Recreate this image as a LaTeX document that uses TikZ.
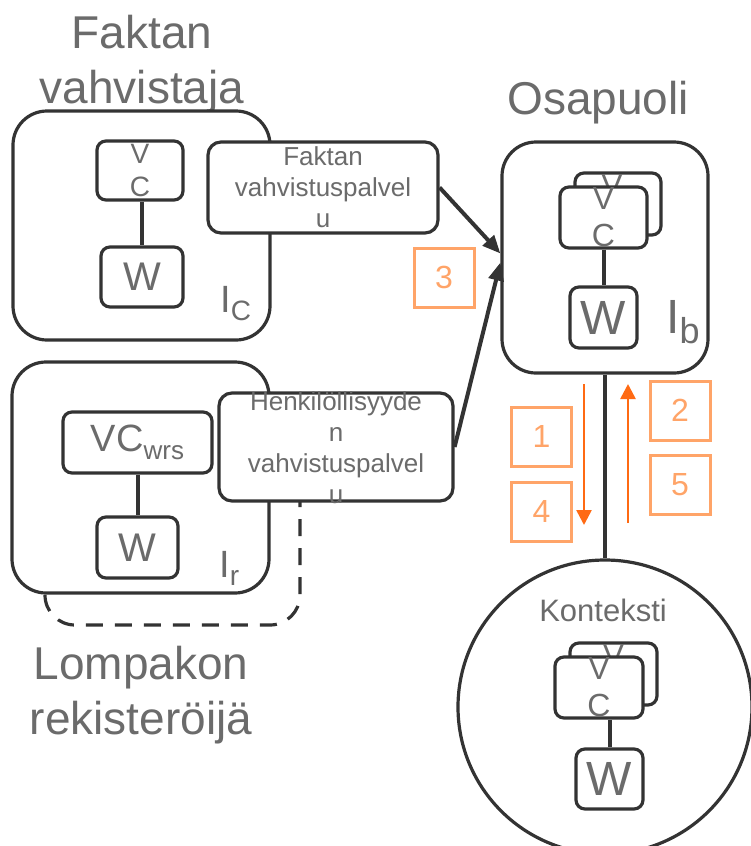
\documentclass[tikz,border=0pt]{standalone}
\usepackage{fontspec}
\setmainfont{Liberation Sans}
\usetikzlibrary{arrows.meta}
\definecolor{txtgray}{HTML}{6B6B6B}
\definecolor{linegray}{HTML}{333333}
\definecolor{lightorange}{HTML}{FFA468}
\definecolor{darkorange}{HTML}{FF6A13}
\tikzset{
  bigbox/.style={draw=linegray, line width=3.2pt, rounded corners=34pt, fill=white, inner sep=0pt},
  smallbox/.style={draw=linegray, line width=3.2pt, rounded corners=9pt, fill=white, inner sep=0pt, text=txtgray},
  svcbox/.style={smallbox, rounded corners=13pt},
  numbox/.style={draw=lightorange, line width=3pt, minimum width=60pt, minimum height=59pt, inner sep=0pt, text=lightorange, font=\fontsize{32}{32}\selectfont},
  bigtext/.style={text=txtgray, font=\fontsize{46}{55}\selectfont, align=center, inner sep=0pt},
  svctext/.style={text=txtgray, font=\fontsize{26}{31}\selectfont, align=center, inner sep=0pt},
  vctext/.style={text=txtgray, font=\fontsize{32}{37}\selectfont, align=center, inner sep=0pt},
  conn/.style={draw=linegray, line width=4pt},
  flow/.style={draw=linegray, line width=4pt, -{Triangle[length=18pt,width=15pt]}},
  msg/.style={draw=darkorange, line width=2.6pt, -{Triangle[length=15pt,width=15pt]}},
}
\begin{document}
\begin{tikzpicture}[x=1pt, y=-1pt]
\useasboundingbox (0,0) rectangle (751,846);
% titles
\node[bigtext, anchor=north] (fvtitle) at (142,15) {Faktan\\vahvistaja};
\node[bigtext, anchor=north] (optitle) at (598,81) {Osapuoli};
\node[bigtext, anchor=north] (lrtitle) at (141,645.5) {Lompakon\\rekisteröijä};

% wallet registrar (dashed part behind)
\draw[linegray, line width=3.2pt, dash pattern=on 17pt off 12pt, rounded corners=30pt] (45,420) rectangle (300,625);

% I_C
\node[bigbox, minimum width=257pt, minimum height=229pt] (ic) at (141.5,225.5) {};
\node[smallbox, minimum width=86pt, minimum height=59pt] (icvc) at (140,170.5) {};
\node[vctext, font=\fontsize{28}{33}\selectfont] at (icvc) {V\\C};
\node[smallbox, minimum width=82pt, minimum height=60pt, font=\fontsize{40}{40}\selectfont] (icw) at (142,277) {W};
\draw[conn] (icw.north |- icvc.south) -- (icw.north);
\node[text=txtgray, inner sep=0pt, anchor=base west, font=\fontsize{38}{38}\selectfont] (iclbl) at (220,312) {I\raisebox{-8pt}{\fontsize{28}{28}\selectfont C}};

% I_r
\node[bigbox, minimum width=257pt, minimum height=231pt] (ir) at (140.5,477.5) {};
\node[smallbox, minimum width=149pt, minimum height=61pt, font=\fontsize{38}{38}\selectfont] (irvc) at (137.5,442.5) {VC\raisebox{-8pt}{\fontsize{26}{26}\selectfont wrs}};
\node[smallbox, minimum width=81pt, minimum height=61pt, font=\fontsize{40}{40}\selectfont] (irw) at (137.5,547.5) {W};
\draw[conn] (irvc) -- (irw);
\node[text=txtgray, inner sep=0pt, anchor=base west, font=\fontsize{38}{38}\selectfont] (irlbl) at (219,577) {I\raisebox{-8pt}{\fontsize{28}{28}\selectfont r}};

% services
\node[svcbox, minimum width=230pt, minimum height=91pt] (fvp) at (323,187.5) {};
\node[svctext] at (fvp) {Faktan\\vahvistuspalvel\\u};
\node[svcbox, minimum width=234pt, minimum height=108pt] (hvp) at (336,447) {};
\node[svctext] at (336,448) {Henkilöllisyyde\\n\\vahvistuspalvel\\u};

% I_b
\node[bigbox, minimum width=206pt, minimum height=231pt] (ib) at (605,257.5) {};
\node[smallbox, minimum width=86pt, minimum height=62pt] (ibvc2) at (618,204) {};
\node[vctext] at ([xshift=-6pt]ibvc2) {V\\C};
\node[smallbox, minimum width=87pt, minimum height=61pt] (ibvc) at (603.5,217.5) {};
\node[vctext] at (ibvc) {V\\C};
\node[smallbox, minimum width=67pt, minimum height=61pt, font=\fontsize{48}{48}\selectfont] (ibw) at (603.5,317.5) {W};
\draw[conn] (ibvc) -- (ibw);
\node[text=txtgray, inner sep=0pt, anchor=base west, font=\fontsize{48}{48}\selectfont] (iblbl) at (666,333) {I\raisebox{-10pt}{\fontsize{36}{36}\selectfont b}};

% context
\node[draw=linegray, line width=3.2pt, circle, minimum size=294pt, inner sep=0pt] (ctx) at (605,707) {};
\node[svctext, font=\fontsize{31}{31}\selectfont] (ctxlbl) at (603,610) {Konteksti};
\node[smallbox, minimum width=87pt, minimum height=62pt] (ctxvc2) at (613.5,674) {};
\node[vctext] at (ctxvc2) {V\\C};
\node[smallbox, minimum width=88pt, minimum height=61pt] (ctxvc) at (599,687.5) {};
\node[vctext] at (ctxvc) {V\\C};
\node[smallbox, minimum width=67pt, minimum height=60pt, font=\fontsize{48}{48}\selectfont] (ctxw) at (609.5,779) {W};
\draw[conn] (ctxw.north |- ctxvc.south) -- (ctxw.north);

\draw[conn] (ib.south) -- (ib.south |- ctx.north);

% connectors
\draw[flow] (fvp.east) -- ([yshift=4pt]ib.west);
\draw[flow] (hvp.east) -- ([yshift=-5pt]ib.west);

% messages
\node[numbox] (n3) at (444,277.5) {3};
\node[numbox] (n1) at (541.5,436.5) {1};
\node[numbox] (n4) at (541.5,511.5) {4};
\node[numbox] (n2) at (680,410.5) {2};
\node[numbox] (n5) at (680,485) {5};
\coordinate (dtop) at (584,384);
\coordinate (dbot) at (584,525);
\coordinate (ubot) at (628,523);
\coordinate (utop) at (628,384);
\draw[msg] (dtop) -- (dbot);
\draw[msg] (ubot) -- (utop);
\end{tikzpicture}
\end{document}
